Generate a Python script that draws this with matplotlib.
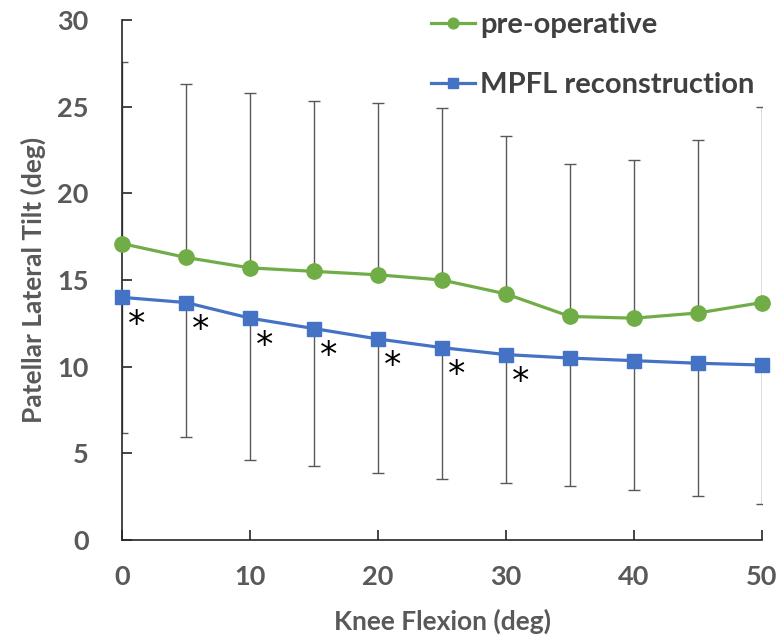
import numpy as np
import matplotlib.pyplot as plt

knee_flexion = [0, 5, 10, 15, 20, 25, 30, 35, 40, 45, 50]
pre_op = [17.1, 16.3, 15.7, 15.5, 15.3, 15.0, 14.2, 12.9, 12.8, 13.1, 13.7]
pre_op_upper = [27.6, 26.3, 25.8, 25.3, 25.2, 24.9, 23.3, 21.7, 21.9, 23.1, 25.0]
mpfl = [14.0, 13.7, 12.8, 12.2, 11.6, 11.1, 10.7, 10.5, 10.35, 10.2, 10.1]
mpfl_lower = [6.2, 5.95, 4.6, 4.3, 3.85, 3.5, 3.3, 3.1, 2.9, 2.55, 2.1]
significant = [True, True, True, True, True, True, True, False, False, False, False]

GREEN = "#70AD47"
BLUE = "#4472C4"
GRAY = "#595959"
FONT = ["Lato", "DejaVu Sans"]


def main():
    plt.rcParams["font.family"] = FONT
    plt.rcParams["font.weight"] = "bold"

    fig = plt.figure(figsize=(7.83, 6.43), dpi=100)
    ax = fig.add_axes([0.156, 0.160, 0.817, 0.809])

    x = np.array(knee_flexion)
    pre = np.array(pre_op)
    post = np.array(mpfl)

    # one-sided error bars: up for pre-op, down for MPFL
    ax.errorbar(x, pre, yerr=[np.zeros_like(pre), np.array(pre_op_upper) - pre],
                fmt="none", ecolor=GRAY, elinewidth=1.0, capsize=4, capthick=1.0, zorder=2)
    ax.errorbar(x, post, yerr=[post - np.array(mpfl_lower), np.zeros_like(post)],
                fmt="none", ecolor=GRAY, elinewidth=1.0, capsize=4, capthick=1.0, zorder=2)

    ax.plot(x, pre, color=GREEN, marker="o", markersize=11, linewidth=2.3,
            label="pre-operative", zorder=3, clip_on=False)
    ax.plot(x, post, color=BLUE, marker="s", markersize=10.5, linewidth=2.3,
            label="MPFL reconstruction", zorder=3, clip_on=False)

    for xi, yi, sig in zip(x, post, significant):
        if sig:
            ax.annotate("*", (xi, yi), xytext=(4, -27), textcoords="offset points",
                        fontsize=25, color="black", fontweight="normal",
                        family=["DejaVu Sans"])

    ax.set_xlim(0, 50)
    ax.set_ylim(0, 30)
    ax.set_xticks(range(0, 51, 10))
    ax.set_yticks(range(0, 31, 5))
    for side in ("top", "right"):
        ax.spines[side].set_visible(False)
    for side in ("left", "bottom"):
        ax.spines[side].set_color("#262626")
        ax.spines[side].set_linewidth(1.2)
    ax.tick_params(direction="in", length=7, width=1.2, color="#262626",
                   labelsize=19.5, labelcolor=GRAY)
    ax.tick_params(axis="x", pad=18)
    ax.tick_params(axis="y", pad=24)

    ax.set_xlabel("Knee Flexion (deg)", fontsize=19, color=GRAY, fontweight="bold", labelpad=14)
    ax.set_ylabel("Patellar Lateral Tilt (deg)", fontsize=19, color=GRAY, fontweight="bold", labelpad=8)

    leg = ax.legend(loc="upper right", bbox_to_anchor=(1.03, 1.065), frameon=False,
                    fontsize=21, handlelength=1.5, handletextpad=0.2, labelspacing=1.15,
                    markerscale=0.7)
    for t in leg.get_texts():
        t.set_color("#404040")
        t.set_fontweight("bold")

    plt.savefig("out.png", dpi=100)


if __name__ == "__main__":
    main()
